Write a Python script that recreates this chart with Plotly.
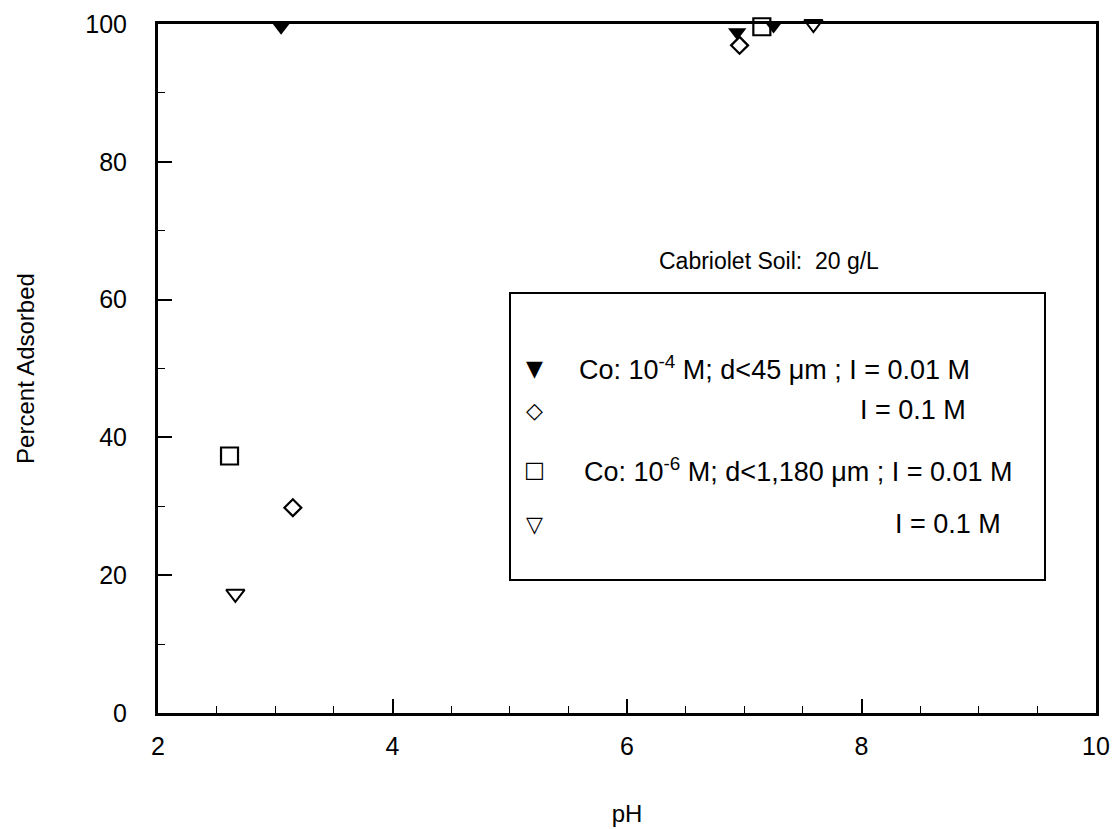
import plotly.graph_objects as go

# Cabriolet soil, 20 g/L: Co adsorption vs pH
ph_co4_i001 = [3.05, 6.94, 7.25]
ads_co4_i001 = [99.6, 98.8, 99.8]

ph_co4_i01 = [3.15, 6.96]
ads_co4_i01 = [29.8, 96.9]

ph_co6_i001 = [2.61, 7.15]
ads_co6_i001 = [37.3, 99.6]

ph_co6_i01 = [2.66, 7.59]
ads_co6_i01 = [17.3, 100.0]

x_ticks = [2, 4, 6, 8, 10]
y_ticks = [0, 20, 40, 60, 80, 100]

FONT = "Liberation Sans, Arial, Helvetica, sans-serif"
BLACK = "#000000"

fig = go.Figure()

series = [
    (ph_co4_i001, ads_co4_i001, "triangle-down", 16, 0),
    (ph_co4_i01, ads_co4_i01, "diamond-open", 13, 2.2),
    (ph_co6_i001, ads_co6_i001, "square-open", 17, 2.2),
    (ph_co6_i01, ads_co6_i01, "triangle-down-open", 16, 2),
]
for xs, ys, sym, sz, lw in series:
    fig.add_trace(go.Scatter(
        x=xs, y=ys, mode="markers", cliponaxis=False, showlegend=False,
        marker=dict(symbol=sym, size=sz, color=BLACK,
                    line=dict(color=BLACK, width=lw)),
    ))

axis_common = dict(
    showgrid=False, zeroline=False, showline=True, linecolor=BLACK,
    linewidth=3, mirror=True, ticks="inside", tickcolor=BLACK,
    tickwidth=1.5, ticklen=14, automargin=False,
    tickfont=dict(family=FONT, size=25, color=BLACK),
)

fig.update_xaxes(
    range=[2, 10], tickvals=x_ticks, ticktext=[str(v) for v in x_ticks],
    ticklabelstandoff=9,
    minor=dict(ticks="inside", dtick=0.5, ticklen=7, tickcolor=BLACK,
               tickwidth=1.2),
    title=dict(text="pH", font=dict(family=FONT, size=24, color=BLACK),
               standoff=47),
    **axis_common,
)
fig.update_yaxes(
    range=[0, 100], tickvals=y_ticks, ticktext=[str(v) for v in y_ticks],
    ticklabelstandoff=23,
    minor=dict(ticks="inside", dtick=10, ticklen=7, tickcolor=BLACK,
               tickwidth=1.2),
    title=dict(text="Percent Adsorbed",
               font=dict(family=FONT, size=24, color=BLACK), standoff=44),
    **axis_common,
)

# Legend frame and entries, placed in paper space
L, T, R, B = 158, 24, 1096, 713
W, H = R - L, B - T


def px(xp):
    return (xp - L) / W


def py(yp):
    return (B - yp) / H


shapes = [dict(type="rect", xref="paper", yref="paper",
               x0=px(510), x1=px(1045), y0=py(580), y1=py(293),
               line=dict(color=BLACK, width=2), fillcolor="white",
               layer="below")]

ann = []
txt_font = dict(family=FONT, size=27, color=BLACK)
ann.append(dict(xref="paper", yref="paper", x=px(769), y=py(261),
                text="Cabriolet Soil:  20 g/L", showarrow=False,
                font=dict(family=FONT, size=23, color=BLACK),
                xanchor="center", yanchor="middle"))

legend_rows = [
    ("▼", 368, "Co: 10<sup>-4</sup> M; d&lt;45 μm ; I = 0.01 M", 577),
    ("◇", 410, "I = 0.1 M", 858),
    ("□", 470, "Co: 10<sup>-6</sup> M; d&lt;1,180 μm ; I = 0.01 M", 582),
    ("▽", 524, "I = 0.1 M", 893),
]
for glyph, yrow, label, xtext in legend_rows:
    ann.append(dict(xref="paper", yref="paper", x=px(534), y=py(yrow),
                    text=glyph, showarrow=False,
                    font=dict(family="DejaVu Sans", size=22, color=BLACK),
                    xanchor="center", yanchor="middle"))
    ann.append(dict(xref="paper", yref="paper", x=px(xtext), y=py(yrow),
                    text=label, showarrow=False, font=txt_font,
                    xanchor="left", yanchor="middle"))

fig.update_layout(
    width=1119, height=829,
    margin=dict(l=L, r=1119 - R, t=T, b=829 - B),
    paper_bgcolor="white", plot_bgcolor="white",
    font=dict(family=FONT, color=BLACK),
    shapes=shapes, annotations=ann,
)

fig.write_html("out.html")
